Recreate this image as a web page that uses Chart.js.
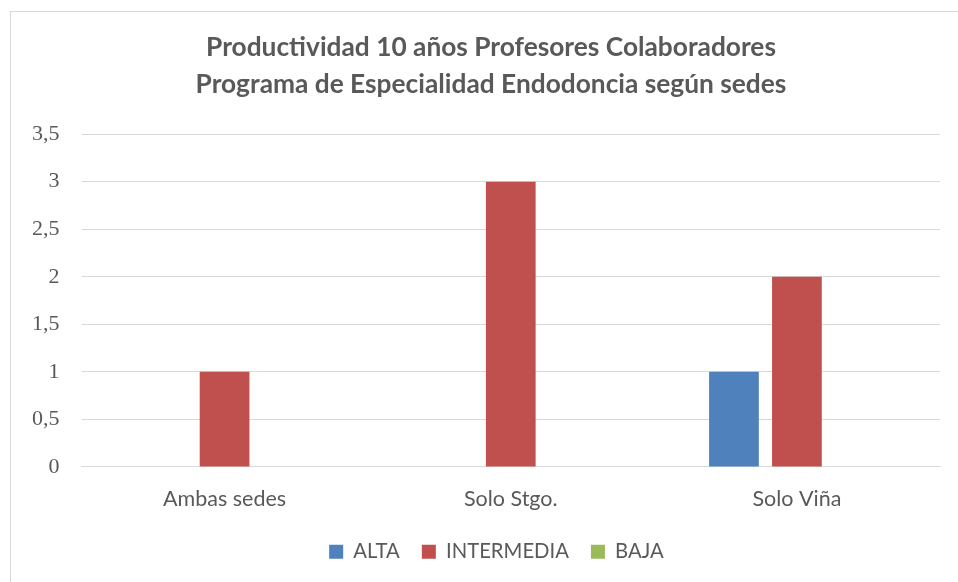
<!DOCTYPE html>
<html>
<head>
<meta charset="utf-8">
<script src="https://cdn.jsdelivr.net/npm/chart.js@4"></script>
<style>
html,body{margin:0;padding:0;background:#fff;}
#wrap{position:relative;width:958px;height:582px;overflow:hidden;}
#frame{position:absolute;left:10px;top:11px;width:1000px;height:700px;border:1px solid #d9d9d9;box-sizing:border-box;}
#c{position:absolute;left:0;top:0;}
</style>
</head>
<body>
<div id="wrap">
<div id="frame"></div>
<canvas id="c" width="958" height="582"></canvas>
</div>
<script>
const categories = ["Ambas sedes", "Solo Stgo.", "Solo Viña"];
const seriesNames = ["ALTA", "INTERMEDIA", "BAJA"];
const alta = [0, 0, 1];
const intermedia = [1, 3, 2];
const baja = [0, 0, 0];
const titleLines = ["Productividad 10 años Profesores Colaboradores", "Programa de Especialidad Endodoncia según sedes"];
const colors = ["#4F81BD", "#C0504D", "#9BBB59"];

const recenter = {
  id: 'recenter',
  afterLayout(chart) {
    const t = chart.titleBlock;
    if (t) { t.left = 11; t.right = 971; }
    const l = chart.legend;
    if (l) { l.left = 13; l.right = 980; if (l.adjustHitBoxes) l.adjustHitBoxes(); }
  }
};

new Chart(document.getElementById('c'), {
  type: 'bar',
  data: {
    labels: categories,
    datasets: [alta, intermedia, baja].map((d, i) => ({
      label: seriesNames[i],
      data: d,
      backgroundColor: colors[i],
      borderWidth: 0,
      categoryPercentage: 0.66,
      barPercentage: 0.79
    }))
  },
  plugins: [recenter],
  options: {
    responsive: false,
    animation: false,
    devicePixelRatio: 1,
    layout: { padding: { left: 10, right: 18, top: 29, bottom: 10 } },
    plugins: {
      title: {
        display: true,
        text: titleLines,
        color: '#595959',
        font: { family: 'Lato', weight: 'bold', size: 26.3, lineHeight: 1.41 },
        padding: { top: 0, bottom: 31 }
      },
      legend: {
        position: 'bottom',
        labels: {
          color: '#595959',
          font: { family: 'Lato', size: 20.3 },
          boxWidth: 14, boxHeight: 14, padding: 22
        }
      },
      tooltip: { enabled: false }
    },
    scales: {
      x: {
        grid: { display: false, drawTicks: false },
        border: { color: '#d9d9d9' },
        ticks: { color: '#595959', font: { family: 'Lato', size: 21.5 }, padding: 19 },
        afterFit: s => { s.height -= 11; }
      },
      y: {
        min: 0, max: 3.5,
        grid: { color: '#d9d9d9', drawTicks: false },
        border: { display: false },
        ticks: {
          stepSize: 0.5,
          color: '#595959',
          padding: 22,
          font: { family: 'Liberation Serif', size: 22 },
          callback: v => String(v).replace('.', ',')
        }
      }
    }
  }
});
</script>
</body>
</html>
